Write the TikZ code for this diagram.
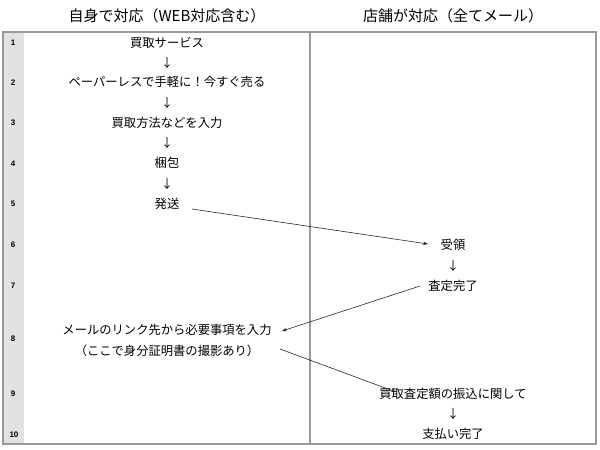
\documentclass[tikz,border=0pt]{standalone}
\usepackage{fontspec}
\setmainfont{Noto Sans CJK JP}
\newfontfamily\numfont{Liberation Sans}
\usetikzlibrary{arrows.meta}
\definecolor{frame}{HTML}{9A9A9A}
\definecolor{numbg}{HTML}{E2E2E2}
\tikzset{
  hdr/.style={font=\fontsize{15}{18}\selectfont, inner sep=0pt},
  txt/.style={font=\fontsize{12.3}{15}\selectfont, inner sep=1pt},
  dn/.style={font=\fontsize{12}{14}\selectfont, inner sep=0pt},
  num/.style={font=\numfont\bfseries\fontsize{8}{9}\selectfont, inner sep=0pt},
  flow/.style={-{Stealth[length=5pt,width=3.5pt]}, line width=0.6pt, black!85},
}
\begin{document}
\begin{tikzpicture}[x=1pt,y=-1pt]
\useasboundingbox (0,0) rectangle (600,450);
% frame
\fill[numbg] (3,32) rectangle (24,444);
\draw[frame, line width=1.5pt] (3,32) rectangle (596,444);
\draw[frame, line width=1.5pt] (310,32) -- (310,444);
% headers
\node[hdr] (h1) at (167,16) {自身で対応（WEB対応含む）};
\node[hdr] (h2) at (453,16) {店舗が対応（全てメール）};
% row numbers
\node[num] (n1) at (13,43) {1};
\node[num] (n2) at (13,83) {2};
\node[num] (n3) at (13,123) {3};
\node[num] (n4) at (13,164) {4};
\node[num] (n5) at (13,204) {5};
\node[num] (n6) at (13,245) {6};
\node[num] (n7) at (13,286) {7};
\node[num] (n8) at (13,339) {8};
\node[num] (n9) at (13,394) {9};
\node[num] (n10) at (14,435) {10};
% left column
\node[txt] (a1) at (167,43) {買取サービス};
\node[dn]  (d1) at (167,63) {↓};
\node[txt] (a2) at (167,82) {ペーパーレスで手軽に！今すぐ売る};
\node[dn]  (d2) at (167,103) {↓};
\node[txt] (a3) at (167,123) {買取方法などを入力};
\node[dn]  (d3) at (167,143) {↓};
\node[txt] (a4) at (167,163) {梱包};
\node[dn]  (d4) at (167,184) {↓};
\node[txt] (a5) at (167,204) {発送};
\node[txt, align=center, font=\fontsize{12.3}{21}\selectfont] (a8) at (167,340) {メールのリンク先から必要事項を入力\\（ここで身分証明書の撮影あり）};
% right column
\node[txt] (b6) at (453,245) {受領};
\node[dn]  (d6) at (453,266) {↓};
\node[txt] (b7) at (453,286) {査定完了};
\node[txt] (b9) at (453,394) {買取査定額の振込に関して};
\node[dn]  (d9) at (453,414) {↓};
\node[txt] (b10) at (453,434) {支払い完了};
% coordinates for connector ends
\coordinate (s5) at (192,209);
\coordinate (e6) at (428,244);
\coordinate (s7) at (420,286);
\coordinate (e8) at (282,331);
\coordinate (s8) at (280,349);
\coordinate (e9) at (396,392);
\draw[flow] (s5) -- (e6);
\draw[flow] (s7) -- (e8);
\draw[flow] (s8) -- (e9);
\end{tikzpicture}
\end{document}
